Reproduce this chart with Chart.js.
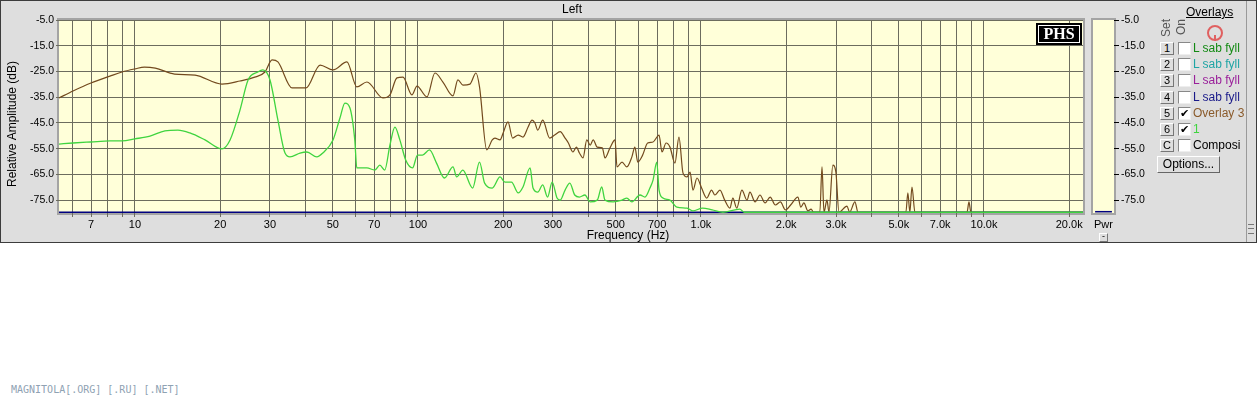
<!DOCTYPE html>
<html>
<head>
<meta charset="utf-8">
<script src="https://cdn.jsdelivr.net/npm/chart.js@4.4.1/dist/chart.umd.min.js"></script>
<style>
  body { margin:0; background:#fff; width:1257px; height:400px; overflow:hidden; font-family:'Liberation Sans', Arial, sans-serif; }
  #win { position:absolute; left:0; top:0; width:1257px; height:243px; box-sizing:border-box; border:1px solid #3c3c3c; background:#dedede; }
  #mainChart { position:absolute; left:0; top:0; }
  #pwrChart { position:absolute; left:1088px; top:0; }
  .abs { position:absolute; }
  .phs { left:1036px; top:23px; width:46px; height:22px; background:#000; box-sizing:border-box; }
  .phs span { position:absolute; left:2px; top:2px; right:2px; bottom:2px; border:1px solid #fff; color:#fff;
    font:bold 16px 'Liberation Serif', 'Times New Roman', serif; text-align:center; line-height:16px; }
  .ovl { left:1186px; top:5px; font-size:12px; text-decoration:underline; color:#000; }
  .vert { width:30px; height:14px; font-size:12px; line-height:14px; text-align:center; color:#555; transform:rotate(-90deg); }
  .btn { width:14px; height:13px; box-sizing:border-box; background:#dedede; border:1px solid; border-color:#fff #777 #777 #fff;
    font-size:11px; line-height:11px; text-align:center; color:#000; }
  .chk { width:13px; height:13px; box-sizing:border-box; background:#fff; border:1px solid; border-color:#888 #eee #eee #888;
    font:bold 11px 'DejaVu Sans', sans-serif; line-height:11px; text-align:center; color:#000; }
  .lbl { font-size:12px; line-height:13px; white-space:nowrap; }
  .opt { left:1157px; top:156px; width:63px; height:17px; box-sizing:border-box; background:#dedede; border:1px solid;
    border-color:#fff #666 #666 #fff; font-size:12px; line-height:14px; text-align:center; }
  .mini { left:1099px; top:233px; width:9px; height:9px; box-sizing:border-box; border:1px solid; border-color:#fff #777 #777 #fff;
    font-size:9px; line-height:5px; text-align:center; }
  .strip { left:1246px; top:1px; width:1px; height:241px; background:#9a9a9a; }
  .grip { left:1248px; top:224px; width:6px; height:10px; border-top:1px solid #777; border-bottom:1px solid #777; box-sizing:border-box; }
  .grip:after { content:''; position:absolute; left:0; right:0; top:3px; border-top:1px solid #777; }
  .foot { left:11px; top:384px; font:10px 'DejaVu Sans Mono', monospace; color:#8fa2b3; }
  .logo { left:1207px; top:25px; width:12px; height:12px; border:2px solid #e06060; border-radius:50%; }
  .logo:after { content:''; position:absolute; left:5px; top:8px; width:2px; height:6px; background:#e06060; }
</style>
</head>
<body>
<div id="win"></div>
<canvas id="mainChart" width="1090" height="243"></canvas>
<canvas id="pwrChart" width="62" height="243"></canvas>
<div class="abs phs"><span>PHS</span></div>
<div class="abs ovl">Overlays</div>
<div class="abs logo"></div>
<div class="abs vert" style="left:1151px;top:21px;">Set</div>
<div class="abs vert" style="left:1166px;top:20px;">On</div>
<div id="rows"></div>
<div class="abs opt">Options...</div>
<div class="abs mini">-</div>
<div class="abs strip"></div>
<div class="abs grip"></div>
<div class="abs foot">MAGNITOLA[.ORG] [.RU] [.NET]</div>

<script>
// frequency axis (Hz)
const FREQ_MIN = 5.39;
const FREQ_MAX = 22380;
const freqGrid = [6,7,8,9,10,20,30,40,50,60,70,80,90,100,200,300,400,500,600,700,800,900,
  1000,2000,3000,4000,5000,6000,7000,8000,9000,10000,20000];
const freqLabels = [7,10,20,30,50,70,100,200,300,500,700,1000,2000,3000,5000,7000,10000,20000];

// amplitude axis (dB)
const DB_MIN = -80;
const DB_MAX = -5;
const dbTicks = [-5,-15,-25,-35,-45,-55,-65,-75];

// Overlay 3 (brown)
const brownHz = [5.39,6.04,6.99,8.16,9.0,10,10.8,11.8,13.8,16.3,20.3,23.5,26.5,28.8,30.5,32.0,35.9,40.2,45.1,50.1,
  56.1,60.8,66.0,75.2,79.6,84.3,88.5,95.2,99.2,107.6,114.8,122.5,132.9,138.4,144.2,152.7,160.3,
  165,175,183,187,195,200,208,216,226,235,245,253,259,265,276,292,304,318,331,340,
  353,363,372,383,395,406,416,430,448,458,477,497,505,526,547,570,584,598,622,648,
  677,711,728,753,777,809,836,864,893,915,937,968,1005,1048,1090,1119,1167,1213,1265,1296,
  1338,1395,1454,1489,1553,1616,1685,1756,1831,1908,1989,2074,2199,2254,2310,2388,2450,2500,
  2630,2677,2720,2787,2833,2924,2997,3073,3281,3350,3499,3589,5297,5383,5470,5566,5702,8710,8850,8990,22380];
const brownDb = [-35.3,-32.6,-29.5,-26.8,-25.2,-24.0,-23.3,-23.7,-26.0,-26.4,-29.9,-28.7,-27.2,-25.2,-20.5,-21.3,-31.4,-31.4,-22.5,-24.4,
  -21.3,-31.0,-29.1,-35.3,-34.1,-27.5,-27.2,-34.1,-30.7,-34.9,-25.6,-29.1,-34.5,-28.3,-30.3,-29.9,-25.6,
  -31.0,-55.5,-51.6,-50.9,-51.6,-48.9,-44.6,-50.9,-49.7,-50.5,-46.6,-43.9,-45.0,-47.8,-43.9,-50.9,-49.7,-48.4,-50.9,-52.8,
  -56.3,-54.4,-56.7,-58.6,-51.6,-53.6,-51.6,-54.4,-54.7,-58.6,-54.7,-51.6,-62.1,-60.2,-62.1,-58.2,-54.4,-60.2,-57.5,-52.8,
  -52.4,-49.7,-56.3,-52.8,-54.4,-60.6,-50.5,-64.5,-66.0,-64.1,-71.1,-66.4,-70.3,-74.2,-71.1,-73.0,-71.1,-75.0,-78.1,-74.2,
  -78.1,-71.1,-75.0,-71.9,-75.7,-73.0,-76.1,-73.8,-76.9,-75.7,-78.8,-76.9,-73.8,-77.7,-76.1,-79.2,-78.5,-79.7,
  -79.7,-62.1,-79.7,-74.9,-79.7,-61.4,-64.1,-79.7,-77.3,-79.7,-75.7,-79.7,-79.7,-72.2,-79.7,-69.9,-79.7,-79.7,-75.7,-79.7,-79.7];

// overlay "1" (green)
const greenHz = [5.39,6.04,6.99,8.16,9.0,10,11.3,12.76,14.19,15.64,17.68,20.3,21.68,23.5,25.1,27.2,28.3,30.0,32.0,33.9,
  35.3,38.3,40.5,43.9,46.1,50.1,53.0,55.2,57.5,59.8,60.8,66.0,70.4,73.3,76.3,79.6,82.9,86.3,90.5,95.7,
  99.6,103.7,109.8,116.3,124,133,137,144,156,
  165,172,183,195,203,214,226,235,249,255,265,276,287,298,310,318,331,344,358,372,
  389,406,430,446,458,489,526,547,570,609,634,660,677,698,711,734,777,822,893,937,
  1013,1095,1195,1372,1420,1500,22380];
const greenDb = [-53.2,-52.8,-52.4,-52.0,-52.0,-51.2,-50.1,-48.1,-47.8,-48.9,-51.6,-55.1,-51.6,-40.0,-28.3,-25.2,-24.4,-28.3,-43.9,-56.7,
  -58.2,-56.7,-56.3,-58.2,-56.7,-51.6,-43.1,-37.3,-39.2,-51.6,-62.5,-62.5,-63.3,-61.4,-63.3,-53.6,-46.6,-51.6,-59.4,-62.5,
  -57.5,-57.5,-55.5,-60.6,-66.4,-62.1,-66.0,-63.3,-70.3,
  -60.2,-68.4,-70.3,-66.0,-68.0,-68.0,-72.2,-69.9,-62.5,-70.3,-71.9,-69.1,-73.8,-68.0,-74.2,-75.0,-71.1,-68.4,-73.0,-73.8,
  -73.0,-75.7,-75.0,-69.9,-75.0,-75.7,-75.0,-74.2,-75.7,-73.0,-73.8,-70.3,-67.2,-60.2,-71.1,-74.2,-75.0,-77.7,-78.1,-79.2,
  -78.1,-78.8,-79.7,-78.5,-79.7,-79.7,-79.7];

// noise floor trace (blue) and power meter
const floorHz = [FREQ_MIN, FREQ_MAX];
const floorDb = [-79.7, -79.7];
const pwrLabels = ['Pwr'];
const pwrLevel = [[-79.8, -79.2]];

// overlay list on the right
const overlaySet = ['1','2','3','4','5','6','C'];
const overlayNames = ['L sab fyll','L sab fyll','L sab fyll','L sab fyll','Overlay 3','1','Composi'];
const overlayOn = [false,false,false,false,true,true,false];
const overlayColors = ['#138a13','#1fa5a5','#9a1f9a','#1a1a8a','#8a5a2a','#3fd43f','#000'];

const PLOT_BG = '#ffffd9';
const GRID = '#6c6c5e';
const FONT = 'Liberation Sans';

const zip = (xs, ys) => xs.map((x, i) => ({ x, y: ys[i] }));
const fmtHz = v => v >= 1000 ? (v / 1000).toFixed(1) + 'k' : String(v);

// legend rows
const rows = document.getElementById('rows');
overlaySet.forEach((s, i) => {
  const top = 42 + i * 16.2;
  rows.insertAdjacentHTML('beforeend',
    `<div class="abs btn" style="left:1160px;top:${top}px">${s}</div>` +
    `<div class="abs chk" style="left:1178px;top:${top}px">${overlayOn[i] ? '✔' : ''}</div>` +
    `<div class="abs lbl" style="left:1193px;top:${top}px;color:${overlayColors[i]}">${overlayNames[i]}</div>`);
});

const plotFrame = {
  id: 'plotFrame',
  beforeDraw(chart) {
    const { ctx, chartArea: a } = chart;
    ctx.save();
    ctx.fillStyle = PLOT_BG;
    ctx.fillRect(a.left, a.top, a.right - a.left, a.bottom - a.top);
    ctx.strokeStyle = '#a4a4a4';
    ctx.lineWidth = 2;
    ctx.strokeRect(a.left - 1, a.top - 1, a.right - a.left + 2, a.bottom - a.top + 2);
    ctx.restore();
  }
};

const titles = {
  id: 'titles',
  afterDraw(chart) {
    const { ctx } = chart;
    ctx.save();
    ctx.fillStyle = '#000';
    ctx.font = `12px ${FONT}`;
    ctx.textAlign = 'center';
    ctx.textBaseline = 'middle';
    ctx.fillText('Left', 572, 10);
    ctx.fillText('Frequency (Hz)', 628, 236);
    ctx.translate(13, 124);
    ctx.rotate(-Math.PI / 2);
    ctx.fillText('Relative Amplitude (dB)', 0, 0);
    ctx.restore();
  }
};

new Chart(document.getElementById('mainChart'), {
  type: 'line',
  data: {
    datasets: [
      { label: '1', data: zip(greenHz, greenDb), borderColor: '#3fd43f', borderWidth: 1.3, cubicInterpolationMode: 'monotone' },
      { label: 'Overlay 3', data: zip(brownHz, brownDb), borderColor: '#734a1e', borderWidth: 1.2, cubicInterpolationMode: 'monotone' },
      { label: 'floor', data: zip(floorHz, floorDb), borderColor: '#000080', borderWidth: 1.3 }
    ]
  },
  options: {
    responsive: false,
    animation: false,
    layout: { padding: { top: 20, right: 7, left: 0, bottom: 0 } },
    elements: { point: { radius: 0 } },
    plugins: { legend: { display: false }, tooltip: { enabled: false }, title: { display: false } },
    scales: {
      x: {
        type: 'logarithmic', min: FREQ_MIN, max: FREQ_MAX,
        afterBuildTicks: s => { s.ticks = freqGrid.map(v => ({ value: v })); },
        afterFit: s => { s.height = 30; s.paddingLeft = 0; s.paddingRight = 0; },
        ticks: { autoSkip: false, maxRotation: 0, minRotation: 0, padding: 1, color: '#000',
          font: { family: FONT, size: 11 }, callback: v => freqLabels.includes(v) ? fmtHz(v) : '' },
        grid: { color: GRID, tickLength: 4, lineWidth: 1 },
        border: { display: false }
      },
      y: {
        min: DB_MIN, max: DB_MAX,
        afterBuildTicks: s => { s.ticks = dbTicks.map(v => ({ value: v })); },
        afterFit: s => { s.width = 59; s.paddingTop = 0; s.paddingBottom = 0; },
        ticks: { padding: 2, color: '#000', font: { family: FONT, size: 10.5 }, callback: v => v.toFixed(1) },
        grid: { color: GRID, tickLength: 3, lineWidth: 1 },
        border: { display: false }
      }
    }
  },
  plugins: [plotFrame, titles]
});

new Chart(document.getElementById('pwrChart'), {
  type: 'bar',
  data: {
    labels: pwrLabels,
    datasets: [{ data: pwrLevel, backgroundColor: '#000080', barPercentage: 0.8, categoryPercentage: 1 }]
  },
  options: {
    responsive: false,
    animation: false,
    layout: { padding: { top: 20, right: 0, left: 5, bottom: 0 } },
    plugins: { legend: { display: false }, tooltip: { enabled: false } },
    scales: {
      x: {
        afterFit: s => { s.height = 30; s.paddingLeft = 0; s.paddingRight = 0; },
        ticks: { padding: 5, color: '#000', font: { family: FONT, size: 11 } },
        grid: { display: false, drawTicks: false },
        border: { display: false }
      },
      y: {
        position: 'right', min: DB_MIN, max: DB_MAX,
        afterBuildTicks: s => { s.ticks = dbTicks.map(v => ({ value: v })); },
        afterFit: s => { s.width = 36; s.paddingTop = 0; s.paddingBottom = 0; },
        ticks: { padding: 2, color: '#000', font: { family: FONT, size: 10.5 }, callback: v => v.toFixed(1) },
        grid: { drawOnChartArea: false, color: '#000', tickLength: 5 },
        border: { display: false }
      }
    }
  },
  plugins: [plotFrame]
});
</script>
</body>
</html>
